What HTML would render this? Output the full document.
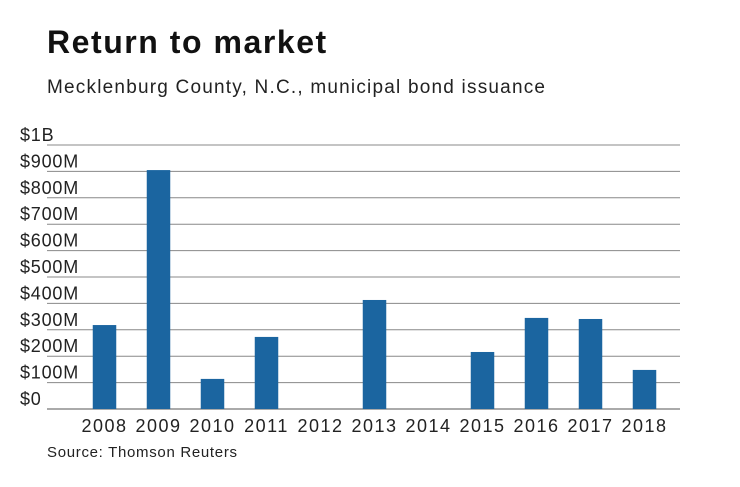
<!DOCTYPE html>
<html><head><meta charset="utf-8"><style>
body{margin:0;background:#fff;font-family:"Liberation Sans",sans-serif;}
</style></head><body>
<svg width="740" height="482" xmlns="http://www.w3.org/2000/svg">
<text x="47" y="53" font-size="32" font-weight="bold" fill="#111" letter-spacing="0.8" textLength="280">Return to market</text>
<text x="47" y="93" font-size="19" fill="#222" textLength="498">Mecklenburg County, N.C., municipal bond issuance</text>
<g id="grid"></g><g id="bars"></g><g id="xl"></g>
<text x="47" y="457" font-size="15" fill="#222" textLength="190">Source: Thomson Reuters</text>
</svg>
<script>
const years=["2008","2009","2010","2011","2012","2013","2014","2015","2016","2017","2018"];
const values=[318,905,114,273,0,413,0,216,345,341,148];
const ticks=[0,100,200,300,400,500,600,700,800,900,1000];
const tickLabels=["$0","$100M","$200M","$300M","$400M","$500M","$600M","$700M","$800M","$900M","$1B"];
const NS="http://www.w3.org/2000/svg";
const y=v=>409-v*0.264;
const x=i=>104.5+i*54;
const g=document.getElementById('grid'),b=document.getElementById('bars'),xl=document.getElementById('xl');
ticks.forEach((t,i)=>{
 const l=document.createElementNS(NS,'line');
 l.setAttribute('x1',47);l.setAttribute('x2',680);l.setAttribute('y1',y(t));l.setAttribute('y2',y(t));
 l.setAttribute('stroke',t===0?'#555':'#888');l.setAttribute('stroke-width',1);
 
 
 g.appendChild(l);
 const tx=document.createElementNS(NS,'text');
 tx.setAttribute('x',20);tx.setAttribute('y',y(t)-4);tx.setAttribute('font-size',18);tx.setAttribute('fill','#222');
 tx.setAttribute('letter-spacing','0.8');
 tx.textContent=tickLabels[i];
 
 
 g.appendChild(tx);
});
years.forEach((yr,i)=>{
 if(values[i]>0){
 const r=document.createElementNS(NS,'rect');
 r.setAttribute('x',x(i)-11.75);r.setAttribute('width',23.5);
 r.setAttribute('y',y(values[i]));r.setAttribute('height',409-y(values[i]));
 r.setAttribute('fill','#1b65a0');
 
 
 b.appendChild(r);}
 const t=document.createElementNS(NS,'text');
 t.setAttribute('x',x(i));t.setAttribute('y',432);t.setAttribute('text-anchor','middle');
 t.setAttribute('font-size',18);t.setAttribute('fill','#222');t.setAttribute('letter-spacing','1.5');t.textContent=yr;
 
 
 xl.appendChild(t);
});
</script>
</body></html>
